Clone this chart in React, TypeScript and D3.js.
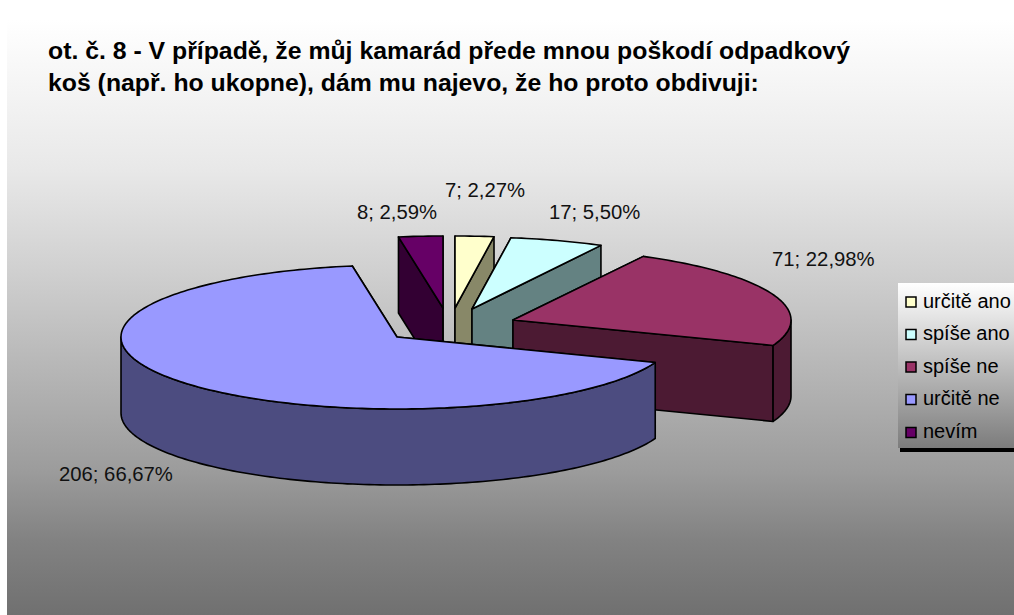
import React from "react";
import * as d3 from "d3";

const titleLines = [
  "ot. č. 8 - V případě, že můj kamarád přede mnou poškodí odpadkový",
  "koš (např. ho ukopne), dám mu najevo, že ho proto obdivuji:",
];
const categories = ["určitě ano", "spíše ano", "spíše ne", "určitě ne", "nevím"];
const counts = [7, 17, 71, 206, 8];
const percents = ["2,27%", "5,50%", "22,98%", "66,67%", "2,59%"];
const topColors = ["#FFFFCC", "#CCFFFF", "#993366", "#9999FF", "#660066"];
const sideColors = ["#888868", "#648282", "#4C1A33", "#4C4C80", "#330033"];

const W = 1014, H = 615;
const RY = 72, DEPTH = 76;
const radiiX = [275, 275, 278, 276, 275];
const apexes: [number, number][] = [[455, 308], [472, 309], [513, 320], [397, 337], [443, 308]];
const labelPos: [number, number][] = [[445, 197], [549, 219], [772, 266], [59, 481], [357, 219]];
const drawOrder = [4, 0, 1, 2, 3];
const legendRows = [302, 334.5, 367, 399.5, 432.5];
const bgStops: [number, string][] = [
  [20, "#ffffff"], [170, "#e8e8e8"], [270, "#d0d0d0"], [470, "#9c9c9c"], [540, "#828282"], [615, "#707070"],
];

const font = "'Liberation Sans', Arial, sans-serif";
const line = d3.line<[number, number]>();
const arcs = d3.pie<number>().sort(null).value((d) => d)(counts);

function Slice({ i }: { i: number }) {
  const c = apexes[i];
  const rx = radiiX[i];
  const pt = (a: number, dy = 0): [number, number] => [c[0] + rx * Math.sin(a), c[1] - RY * Math.cos(a) + dy];
  const arcPts = (a0: number, a1: number, dy = 0) => {
    const n = Math.max(2, Math.ceil((a1 - a0) / 0.02));
    return d3.range(n + 1).map((k) => pt(a0 + ((a1 - a0) * k) / n, dy));
  };
  const { startAngle: a0, endAngle: a1 } = arcs[i];
  const stroke = { stroke: "#000", strokeWidth: 1.6, strokeLinejoin: "round" as const };
  const wall = (a: number) => line([c, pt(a), pt(a, DEPTH), [c[0], c[1] + DEPTH]])! + "Z";
  const r0 = Math.max(a0, Math.PI / 2);
  const r1 = Math.min(a1, (3 * Math.PI) / 2);
  const rim = r1 > r0 ? line([...arcPts(r0, r1), ...arcPts(r0, r1, DEPTH).reverse()])! + "Z" : null;
  const top = line([c, ...arcPts(a0, a1)])! + "Z";
  return (
    <g>
      <path d={wall(a0)} fill={sideColors[i]} {...stroke} />
      <path d={wall(a1)} fill={sideColors[i]} {...stroke} />
      {rim && <path d={rim} fill={sideColors[i]} {...stroke} />}
      <path d={top} fill={topColors[i]} {...stroke} />
    </g>
  );
}

export default function App() {
  return (
    <svg width={W} height={H} viewBox={`0 0 ${W} ${H}`} style={{ position: "absolute", left: 0, top: 0, display: "block" }}>
      <defs>
        <linearGradient id="bg" gradientUnits="userSpaceOnUse" x1="0" y1="20" x2="0" y2="615">
          {bgStops.map(([y, col]) => (
            <stop key={y} offset={(y - 20) / 595} stopColor={col} />
          ))}
        </linearGradient>
        <linearGradient id="leg" x1="0" y1="0" x2="0" y2="1">
          <stop offset="0" stopColor="#ffffff" />
          <stop offset="1" stopColor="#7c7c7c" />
        </linearGradient>
      </defs>
      <rect width={W} height={H} fill="#fff" />
      <rect x={7} y={20} width={W - 7} height={H - 20} fill="url(#bg)" />
      {titleLines.map((t, i) => (
        <text key={i} x={48} y={59 + i * 32} fontFamily={font} fontWeight="bold" fontSize={24.8} fill="#000">
          {t}
        </text>
      ))}
      {drawOrder.map((i) => (
        <Slice key={i} i={i} />
      ))}
      {counts.map((v, i) => (
        <text key={i} x={labelPos[i][0]} y={labelPos[i][1]} fontFamily={font} fontSize={20.3} fill="#111">
          {`${v}; ${percents[i]}`}
        </text>
      ))}
      <rect x={900} y={448} width={114} height={4} fill="#000" />
      <rect x={898} y={283} width={116} height={165} fill="url(#leg)" />
      {categories.map((c, i) => (
        <g key={c}>
          <rect x={906} y={legendRows[i] - 5} width={10} height={10} fill={topColors[i]} stroke="#000" strokeWidth={1.5} />
          <text x={923} y={legendRows[i] + 5.5} fontFamily={font} fontSize={20} fill="#000">
            {c}
          </text>
        </g>
      ))}
    </svg>
  );
}
